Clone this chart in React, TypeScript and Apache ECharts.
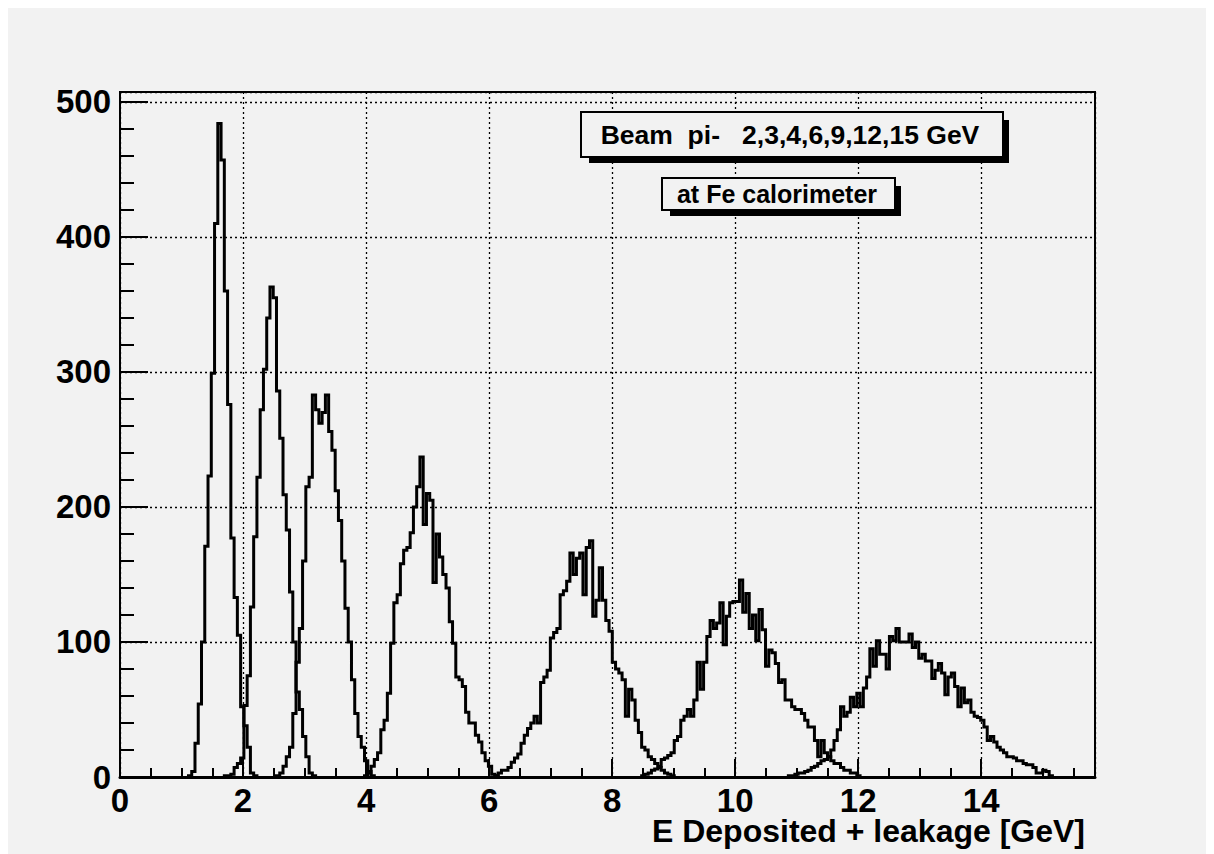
import React, { useEffect, useRef } from "react";
import * as echarts from "echarts";

// Histogram binning: 300 equal bins over 0 .. 15.9 GeV
const BIN_WIDTH = 15.9 / 300;
const X_MAX = 15.85;
const Y_MAX = 507.4;

// Beam energies (GeV) and the first non-empty bin of each histogram
const beamEnergies = [2, 3, 4, 6, 9, 12, 15];
const firstBins = [21, 32, 48, 75, 115, 160, 205];

// Bin contents, one array per beam energy
const counts2GeV = [1, 4, 25, 54, 100, 171, 223, 299, 410, 484, 457, 360, 276, 177, 133, 105, 52, 38, 22, 3, 1];
const counts3GeV = [1, 1, 2, 7, 10, 14, 53, 75, 126, 178, 222, 272, 302, 340, 363, 355, 286, 251, 209, 183, 137, 100, 63, 50, 30, 15, 3, 1];
const counts4GeV = [1, 3, 8, 15, 22, 47, 85, 110, 160, 215, 222, 283, 272, 262, 270, 283, 256, 242, 212, 190, 160, 125, 100, 72, 47, 30, 22, 12, 4, 1];
const counts6GeV = [1, 3, 8, 13, 18, 35, 42, 62, 99, 129, 135, 158, 168, 170, 181, 200, 215, 237, 187, 210, 205, 144, 180, 163, 150, 140, 115, 99, 74, 72, 67, 48, 40, 40, 31, 26, 18, 12, 8, 2, 1];
const counts9GeV = [1, 3, 5, 5, 7, 11, 14, 17, 25, 31, 36, 40, 45, 40, 70, 74, 79, 103, 107, 110, 135, 138, 145, 166, 150, 162, 166, 135, 170, 175, 119, 131, 155, 131, 116, 108, 85, 80, 77, 72, 45, 65, 57, 42, 33, 22, 20, 15, 13, 10, 7, 5, 3, 2, 1];
const counts12GeV = [1, 2, 3, 5, 6, 8, 13, 14, 16, 18, 27, 30, 42, 45, 50, 45, 57, 85, 65, 85, 104, 116, 110, 114, 129, 98, 119, 129, 130, 130, 146, 122, 136, 110, 120, 101, 124, 109, 82, 94, 92, 84, 70, 72, 57, 57, 52, 50, 50, 47, 42, 37, 37, 27, 15, 27, 18, 15, 12, 10, 10, 7, 5, 5, 3, 3, 1];
const counts15GeV = [1, 1, 2, 3, 3, 4, 5, 7, 8, 10, 12, 13, 15, 20, 27, 35, 52, 45, 48, 59, 52, 62, 52, 66, 74, 95, 82, 101, 91, 91, 80, 104, 101, 110, 100, 100, 100, 106, 96, 100, 88, 91, 86, 86, 73, 79, 84, 77, 61, 74, 77, 67, 52, 66, 55, 57, 48, 45, 44, 42, 37, 27, 30, 26, 22, 20, 18, 15, 15, 14, 12, 12, 10, 9, 9, 7, 3, 3, 5, 4, 1];

const countsByBeam = [counts2GeV, counts3GeV, counts4GeV, counts6GeV, counts9GeV, counts12GeV, counts15GeV];

// Axis steps
const X_MAJOR = 2;
const X_MINOR = 0.5;
const Y_MAJOR = 100;
const Y_MINOR = 20;

// Texts
const xAxisTitle = "E Deposited + leakage [GeV]";
const beamText = "Beam  pi-   2,3,4,6,9,12,15 GeV";
const detectorText = "at Fe calorimeter";

const FONT = '"Liberation Sans", Arial, Helvetica, sans-serif';
const BG = "#f2f2f2";

// Step outline of one histogram, closed down to zero on both ends
function histogramOutline(first: number, counts: number[]): number[][] {
  const pts: number[][] = [[first * BIN_WIDTH, 0]];
  counts.forEach((c, k) => {
    const lo = (first + k) * BIN_WIDTH;
    pts.push([lo, c], [lo + BIN_WIDTH, c]);
  });
  pts.push([(first + counts.length) * BIN_WIDTH, 0]);
  return pts;
}

// A framed text box with a drop shadow to the lower right
function paveShadowed(x: number, y: number, w: number, h: number, text: string, fontSize: number, tx: number) {
  return [
    {
      type: "rect",
      shape: { x: x + 8, y: y + 8, width: w - 2, height: h - 2 },
      style: { fill: "#000" },
      silent: true,
      z: 10,
    },
    {
      type: "rect",
      shape: { x, y, width: w, height: h },
      style: { fill: BG, stroke: "#000", lineWidth: 2 },
      silent: true,
      z: 11,
    },
    {
      type: "text",
      x: tx,
      y: y + h / 2,
      style: {
        text,
        font: `bold ${fontSize}px ${FONT}`,
        fill: "#000",
        textAlign: "center",
        textVerticalAlign: "middle",
        align: "center",
        verticalAlign: "middle",
      },
      silent: true,
      z: 12,
    },
  ];
}

export default function App() {
  const ref = useRef<HTMLDivElement>(null);

  useEffect(() => {
    if (!ref.current) return;
    // The canvas runs past the right and bottom edges of the window
    document.documentElement.style.overflow = "hidden";
    document.body.style.overflow = "hidden";
    const chart = echarts.init(ref.current, null, { renderer: "svg" });

    const labelStyle = {
      color: "#000",
      fontFamily: FONT,
      fontWeight: "bold" as const,
      fontSize: 33,
      lineHeight: 24,
    };

    const series = countsByBeam.map((counts, i) => ({
      name: `${beamEnergies[i]} GeV`,
      type: "line",
      xAxisIndex: 0,
      yAxisIndex: 0,
      data: histogramOutline(firstBins[i], counts),
      showSymbol: false,
      symbol: "none",
      silent: true,
      clip: true,
      lineStyle: { color: "#000", width: 3, join: "miter" },
      z: 5,
    }));

    chart.setOption({
      animation: false,
      backgroundColor: BG,
      grid: {
        left: 112,
        top: 84,
        right: 119,
        bottom: 77,
        show: true,
        borderColor: "#000",
        borderWidth: 2,
        backgroundColor: "transparent",
      },
      xAxis: [
        {
          type: "value",
          position: "bottom",
          min: 0,
          max: X_MAX,
          interval: X_MAJOR,
          axisLine: { show: true, lineStyle: { color: "#000", width: 3 } },
          axisTick: { show: true, inside: true, length: 18, lineStyle: { color: "#000", width: 2 } },
          axisLabel: { ...labelStyle, margin: 11, showMaxLabel: false },
          splitLine: { show: true, lineStyle: { color: "#000", width: 1.3, type: [2, 3] } },
        },
        {
          type: "value",
          position: "bottom",
          min: 0,
          max: X_MAX,
          interval: X_MINOR,
          axisLine: { show: false },
          axisTick: { show: true, inside: true, length: 9, lineStyle: { color: "#000", width: 2 } },
          axisLabel: { show: false },
          splitLine: { show: false },
        },
      ],
      yAxis: [
        {
          type: "value",
          position: "left",
          min: 0,
          max: Y_MAX,
          interval: Y_MAJOR,
          axisLine: { show: true, lineStyle: { color: "#000", width: 2 } },
          axisTick: { show: true, inside: true, length: 28, lineStyle: { color: "#000", width: 2 } },
          axisLabel: { ...labelStyle, margin: 9, showMaxLabel: false },
          splitLine: { show: true, lineStyle: { color: "#000", width: 1.3, type: [2, 3] } },
        },
        {
          type: "value",
          position: "left",
          min: 0,
          max: Y_MAX,
          interval: Y_MINOR,
          axisLine: { show: false },
          axisTick: { show: true, inside: true, length: 14, lineStyle: { color: "#000", width: 2 } },
          axisLabel: { show: false },
          splitLine: { show: false },
        },
      ],
      series,
      graphic: [
        ...paveShadowed(573, 104, 422, 45, beamText, 26.5, 782),
        ...paveShadowed(654, 170, 233, 32, detectorText, 25, 769),
        {
          type: "text",
          x: 1077,
          y: 823,
          style: {
            text: xAxisTitle,
            font: `bold 32px ${FONT}`,
            lineHeight: 26,
            fill: "#000",
            textAlign: "right",
            textVerticalAlign: "middle",
            align: "right",
            verticalAlign: "middle",
          },
          silent: true,
          z: 12,
        },
      ],
    });

    return () => chart.dispose();
  }, []);

  return <div ref={ref} style={{ width: 1206, height: 846 }} />;
}
